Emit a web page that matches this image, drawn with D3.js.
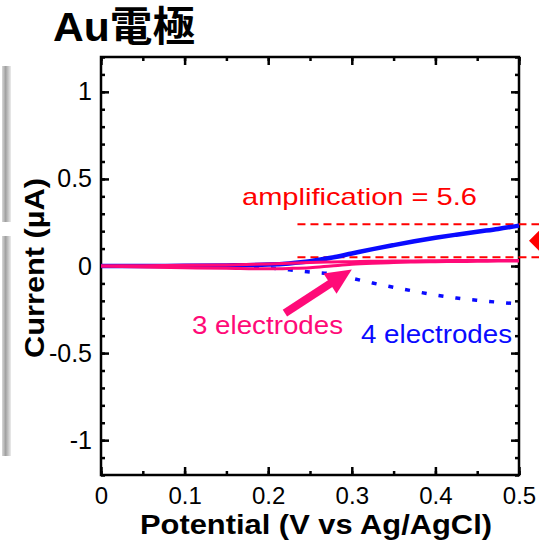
<!DOCTYPE html>
<html>
<head>
<meta charset="utf-8">
<script src="https://cdn.jsdelivr.net/npm/d3@7"></script>
<style>
  body { margin: 0; background: #fff; }
  text { font-family: "Liberation Sans", Arial, "Noto Sans CJK JP", sans-serif; }
</style>
</head>
<body>
<svg id="graph" width="539" height="545"></svg>
<script>
// potential (V vs Ag/AgCl)
const potential = [0, 0.05, 0.1, 0.15, 0.2, 0.225, 0.25, 0.275, 0.3, 0.325, 0.35, 0.375, 0.4, 0.425, 0.45, 0.475, 0.5];
// 4 electrodes: forward sweep (solid) and return sweep (dotted), µA
const blueForward = [0, 0, 0.001, 0.003, 0.008, 0.015, 0.027, 0.047, 0.072, 0.097, 0.12, 0.142, 0.162, 0.18, 0.197, 0.213, 0.232];
const blueReturn = [0, 0, 0, -0.002, -0.01, -0.022, -0.035, -0.045, -0.07, -0.098, -0.122, -0.145, -0.167, -0.184, -0.197, -0.208, -0.218];
// 3 electrodes: upper and lower branch of the loop, µA
const pinkUpper = [0, 0.002, 0.004, 0.006, 0.012, 0.016, 0.02, 0.023, 0.025, 0.027, 0.028, 0.029, 0.03, 0.031, 0.031, 0.032, 0.032];
const pinkLower = [0, -0.006, -0.01, -0.013, -0.016, -0.014, -0.01, 0.0, 0.01, 0.016, 0.02, 0.023, 0.025, 0.026, 0.027, 0.028, 0.029];
// amplification levels
const ampLevels = [0.24, 0.05];
const xTicks = [0, 0.1, 0.2, 0.3, 0.4, 0.5];
const yTicks = [-1, -0.5, 0, 0.5, 1];

const margin = { top: 57, right: 20, bottom: 70, left: 101 };
const width = 539, height = 545;

const svg = d3.select("#graph");

const x = d3.scaleLinear().domain([0, 0.5]).range([margin.left, width - margin.right]);
const y = d3.scaleLinear().domain([-1.2, 1.2]).range([height - margin.bottom, margin.top]);

// grey strip on the left edge of the slide
const grad = svg.append("defs").append("linearGradient").attr("id", "strip");
grad.append("stop").attr("offset", "0%").attr("stop-color", "#d8d8d8");
grad.append("stop").attr("offset", "40%").attr("stop-color", "#a0a0a0");
grad.append("stop").attr("offset", "100%").attr("stop-color", "#ececec");
svg.append("rect").attr("x", 2).attr("y", 66).attr("width", 9).attr("height", 156).attr("fill", "url(#strip)");
svg.append("rect").attr("x", 2).attr("y", 236).attr("width", 9).attr("height", 220).attr("fill", "url(#strip)");

// title
svg.append("text")
  .attr("x", 53).attr("y", 41)
  .attr("font-size", 41).attr("font-weight", "bold")
  .attr("textLength", 142).attr("lengthAdjust", "spacingAndGlyphs")
  .text("Au電極");

// axes, ticks inward on all four sides
const fmt = (d) => String(d);
const xMinor = d3.range(0, 0.5001, 0.05);
const yMinor = d3.range(-1.2, 1.2001, 0.1);

svg.append("g").attr("transform", `translate(0,${y(-1.2)})`)
  .call(d3.axisBottom(x).tickValues(xMinor).tickSize(-4).tickFormat(""))
  .call((g) => g.select(".domain").remove());
svg.append("g").attr("transform", `translate(0,${y(-1.2)})`)
  .call(d3.axisBottom(x).tickValues(xTicks).tickSize(-8).tickFormat(fmt))
  .call((g) => g.select(".domain").remove())
  .call((g) => g.selectAll("text").attr("font-size", 24).attr("dy", "0.71em").attr("y", 12));
svg.append("g").attr("transform", `translate(0,${y(1.2)})`)
  .call(d3.axisTop(x).tickValues(xMinor).tickSize(-4).tickFormat(""))
  .call((g) => g.select(".domain").remove());
svg.append("g").attr("transform", `translate(0,${y(1.2)})`)
  .call(d3.axisTop(x).tickValues(xTicks).tickSize(-8).tickFormat(""))
  .call((g) => g.select(".domain").remove());

svg.append("g").attr("transform", `translate(${x(0)},0)`)
  .call(d3.axisLeft(y).tickValues(yMinor).tickSize(-4).tickFormat(""))
  .call((g) => g.select(".domain").remove());
svg.append("g").attr("transform", `translate(${x(0)},0)`)
  .call(d3.axisLeft(y).tickValues(yTicks).tickSize(-8).tickFormat(fmt))
  .call((g) => g.select(".domain").remove())
  .call((g) => g.selectAll("text").attr("font-size", 25).attr("x", -9));
svg.append("g").attr("transform", `translate(${x(0.5)},0)`)
  .call(d3.axisRight(y).tickValues(yMinor).tickSize(-4).tickFormat(""))
  .call((g) => g.select(".domain").remove());
svg.append("g").attr("transform", `translate(${x(0.5)},0)`)
  .call(d3.axisRight(y).tickValues(yTicks).tickSize(-8).tickFormat(""))
  .call((g) => g.select(".domain").remove());

svg.selectAll(".tick line").attr("stroke", "#000").attr("stroke-width", 2.5);

svg.append("rect")
  .attr("x", x(0)).attr("y", y(1.2))
  .attr("width", x(0.5) - x(0)).attr("height", y(-1.2) - y(1.2))
  .attr("fill", "none").attr("stroke", "#000").attr("stroke-width", 2.5);

// axis titles
svg.append("text")
  .attr("x", 316).attr("y", 534)
  .attr("text-anchor", "middle")
  .attr("font-size", 27).attr("font-weight", "bold")
  .attr("textLength", 352).attr("lengthAdjust", "spacingAndGlyphs")
  .text("Potential (V vs Ag/AgCl)");

svg.append("text")
  .attr("transform", `translate(44,${y(0) + 2}) rotate(-90)`)
  .attr("text-anchor", "middle")
  .attr("font-size", 28).attr("font-weight", "bold")
  .attr("textLength", 180).attr("lengthAdjust", "spacingAndGlyphs")
  .text("Current (µA)");

// curves
const line = (vals) => d3.line().x((d, i) => x(potential[i])).y((d) => y(d)).curve(d3.curveMonotoneX)(vals);

const blue = "#0a0aff";
const pink = "#ff0a78";
const red = "#ff0000";

svg.append("path").attr("d", line(blueReturn))
  .attr("fill", "none").attr("stroke", blue).attr("stroke-width", 3.5)
  .attr("stroke-dasharray", "5,12");

// amplification dashed lines
svg.append("g").selectAll("line")
  .data(ampLevels)
  .join("line")
  .attr("x1", x(0.235)).attr("x2", width)
  .attr("y1", (d) => y(d)).attr("y2", (d) => y(d))
  .attr("stroke", red).attr("stroke-width", 2)
  .attr("stroke-dasharray", "8,5");

svg.append("path").attr("d", line(blueForward))
  .attr("fill", "none").attr("stroke", blue).attr("stroke-width", 4.5);

svg.append("path").attr("d", line(pinkLower))
  .attr("fill", "none").attr("stroke", pink).attr("stroke-width", 3);
svg.append("path").attr("d", line(pinkUpper))
  .attr("fill", "none").attr("stroke", pink).attr("stroke-width", 3);

// red double arrow at the right edge
const cy = (y(ampLevels[0]) + y(ampLevels[1])) / 2;
const cx = x(0.5) + 22;
svg.append("path")
  .attr("d", `M${cx},${cy - 12}L${cx - 12},${cy}L${cx},${cy + 12}L${cx + 12},${cy}Z`)
  .attr("fill", red);

// pink arrow pointing at 3-electrode curve
const a0 = [x(0.22), y(-0.27)], a1 = [x(0.3), y(-0.02)];
const ang = Math.atan2(a1[1] - a0[1], a1[0] - a0[0]);
const headLen = 26, headW = 12;
const base = [a1[0] - headLen * Math.cos(ang), a1[1] - headLen * Math.sin(ang)];
svg.append("line")
  .attr("x1", a0[0]).attr("y1", a0[1]).attr("x2", base[0] + 2 * Math.cos(ang)).attr("y2", base[1] + 2 * Math.sin(ang))
  .attr("stroke", pink).attr("stroke-width", 8);
const nx = -Math.sin(ang), ny = Math.cos(ang);
svg.append("path")
  .attr("d", `M${a1[0]},${a1[1]}L${base[0] + headW * nx},${base[1] + headW * ny}L${base[0] - headW * nx},${base[1] - headW * ny}Z`)
  .attr("fill", pink);

// annotations
svg.append("text")
  .attr("x", 242).attr("y", 205)
  .attr("font-size", 24).attr("fill", red)
  .attr("textLength", 235).attr("lengthAdjust", "spacingAndGlyphs")
  .text("amplification = 5.6");

svg.append("text")
  .attr("x", 192).attr("y", 334)
  .attr("font-size", 25).attr("fill", pink)
  .attr("textLength", 151).attr("lengthAdjust", "spacingAndGlyphs")
  .text("3 electrodes");

svg.append("text")
  .attr("x", 361).attr("y", 343)
  .attr("font-size", 25).attr("fill", blue)
  .attr("textLength", 151).attr("lengthAdjust", "spacingAndGlyphs")
  .text("4 electrodes");
</script>
</body>
</html>
